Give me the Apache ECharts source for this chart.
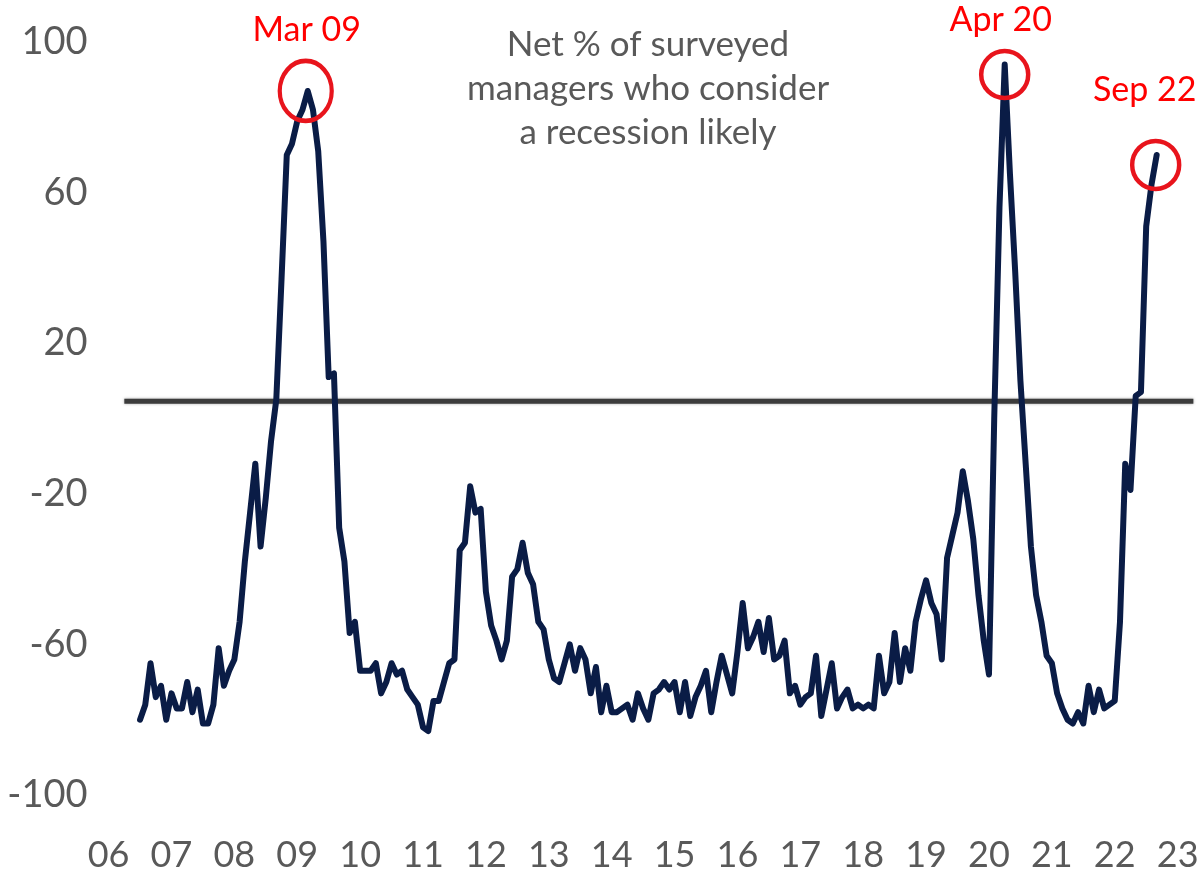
<!DOCTYPE html>
<html>
<head>
<meta charset="utf-8">
<script src="https://cdn.jsdelivr.net/npm/echarts@6/dist/echarts.min.js"></script>
<style>
  html, body { margin: 0; padding: 0; background: #ffffff; }
  #chart { width: 1199px; height: 870px; }
</style>
</head>
<body>
<div id="chart"></div>
<script>
// Monthly category axis running from Jan 2006 to Apr 2023
const axisFirstYear = 2006;
const axisMonthCount = 208;          // months after Jan 2006 (last = Apr 2023)

// Fund manager survey: net % who consider a recession likely, monthly Jul 2006 - Sep 2022
const seriesFirstMonth = '2006-07';
const recessionLikelyNetPct = [
  -80, -76, -65, -74, -71, -80, -73, -77, -77, -70,
  -78, -72, -81, -81, -76, -61, -71, -67, -64, -54,
  -38, -25, -12, -34, -21, -6, 5, 37, 70, 73,
  79, 82, 87, 82, 71, 47, 11, 12, -29, -38,
  -57, -54, -67, -67, -67, -65, -73, -70, -65, -68,
  -67, -72, -74, -76, -82, -83, -75, -75, -70, -65,
  -64, -35, -33, -18, -25, -24, -46, -55, -59, -64,
  -59, -42, -40, -33, -41, -44, -54, -56, -64, -69,
  -70, -65, -60, -67, -61, -64, -73, -66, -78, -71,
  -78, -78, -77, -76, -80, -73, -77, -80, -73, -72,
  -70, -72, -70, -78, -70, -79, -74, -71, -67, -78,
  -70, -63, -68, -73, -62, -49, -61, -58, -54, -62,
  -53, -64, -63, -59, -73, -71, -76, -74, -73, -63,
  -79, -72, -65, -77, -74, -72, -77, -76, -77, -76,
  -77, -63, -73, -70, -57, -70, -61, -67, -54, -48,
  -43, -49, -52, -64, -37, -31, -25, -14, -22, -32,
  -47, -59, -68, 0, 56, 94, 65, 39, 10, -12,
  -34, -47, -54, -63, -65, -73, -77, -80, -81, -78,
  -81, -71, -78, -72, -77, -76, -75, -54, -12, -19,
  6, 7, 51, 62, 70
];

// Y axis tick labels
const yTicks = [-100, -60, -20, 20, 60, 100];

// Horizontal reference rule
const referenceLevel = 4.6;
const referenceFrom = '2006-04';
const referenceTo = '2023-04';

// Highlighted survey peaks
const callouts = [
  { month: '2009-03', text: 'Mar 09' },
  { month: '2020-04', text: 'Apr 20' },
  { month: '2022-09', text: 'Sep 22' }
];

const titleLines = ['Net % of surveyed', 'managers who consider', 'a recession likely'];

// ---- build category list and aligned series ----
const months = [];
for (let k = 0; k <= axisMonthCount; k++) {
  const y = axisFirstYear + Math.floor(k / 12);
  const m = (k % 12) + 1;
  months.push(y + '-' + String(m).padStart(2, '0'));
}
const startIdx = months.indexOf(seriesFirstMonth);
const lineData = months.map((m, k) => {
  const j = k - startIdx;
  return (j >= 0 && j < recessionLikelyNetPct.length) ? recessionLikelyNetPct[j] : null;
});
const referenceData = months.map(m => (m === referenceFrom || m === referenceTo) ? referenceLevel : null);

// ---- styling ----
const FONT = 'Lato, "Open Sans", sans-serif';
const GREY = '#595959';
const RED = '#ff0000';
const calloutStyle = {
  'Mar 09': { size: [52, 60], symbolOffset: [-2, 0], labelOffset: [1, -61] },
  'Apr 20': { size: [47, 47], symbolOffset: [0, 10], labelOffset: [-4, -55] },
  'Sep 22': { size: [47, 48], symbolOffset: [-1, 10], labelOffset: [-11, -75] }
};

const markPoints = callouts.map(c => {
  const st = calloutStyle[c.text];
  return {
    coord: [c.month, lineData[months.indexOf(c.month)]],
    symbolSize: st.size,
    symbolOffset: st.symbolOffset,
    label: { formatter: c.text, offset: st.labelOffset }
  };
});

const chart = echarts.init(document.getElementById('chart'), null, { renderer: 'canvas' });
chart.setOption({
  animation: false,
  backgroundColor: '#ffffff',
  grid: { left: 108.6, right: 0.4, top: 42, bottom: 75, containLabel: false, outerBoundsMode: 'none' },
  xAxis: {
    type: 'category',
    data: months,
    boundaryGap: false,
    axisLine: { show: false },
    axisTick: { show: false },
    splitLine: { show: false },
    axisLabel: {
      interval: (idx, val) => val.endsWith('-01'),
      formatter: val => val.slice(2, 4),
      color: GREY,
      fontFamily: FONT,
      fontSize: 36,
      margin: 42
    }
  },
  yAxis: {
    type: 'value',
    min: -100,
    max: 100,
    axisLine: { show: false },
    axisTick: { show: false },
    splitLine: { show: false },
    axisLabel: {
      customValues: yTicks,
      color: GREY,
      fontFamily: FONT,
      fontSize: 38,
      margin: 21
    }
  },
  graphic: [{
    type: 'text',
    x: 648,
    y: 88.5,
    style: {
      text: titleLines.join('\n'),
      align: 'center',
      verticalAlign: 'middle',
      lineHeight: 44,
      fill: GREY,
      font: '35px ' + FONT
    }
  }],
  series: [
    {
      name: 'Reference',
      type: 'line',
      data: referenceData,
      connectNulls: true,
      symbol: 'none',
      silent: true,
      z: 1,
      lineStyle: { color: '#3c3c3c', width: 5, shadowColor: 'rgba(0,0,0,0.35)', shadowBlur: 3 }
    },
    {
      name: 'Net % recession likely',
      type: 'line',
      data: lineData,
      symbol: 'none',
      z: 3,
      lineStyle: { color: '#0a1c46', width: 6, join: 'round', cap: 'round' },
      markPoint: {
        symbol: 'circle',
        silent: true,
        itemStyle: { color: 'rgba(0,0,0,0)', borderColor: '#e8141c', borderWidth: 4.5 },
        label: {
          show: true,
          position: 'inside',
          color: RED,
          fontFamily: FONT,
          fontSize: 34
        },
        data: markPoints
      }
    }
  ]
});
</script>
</body>
</html>
